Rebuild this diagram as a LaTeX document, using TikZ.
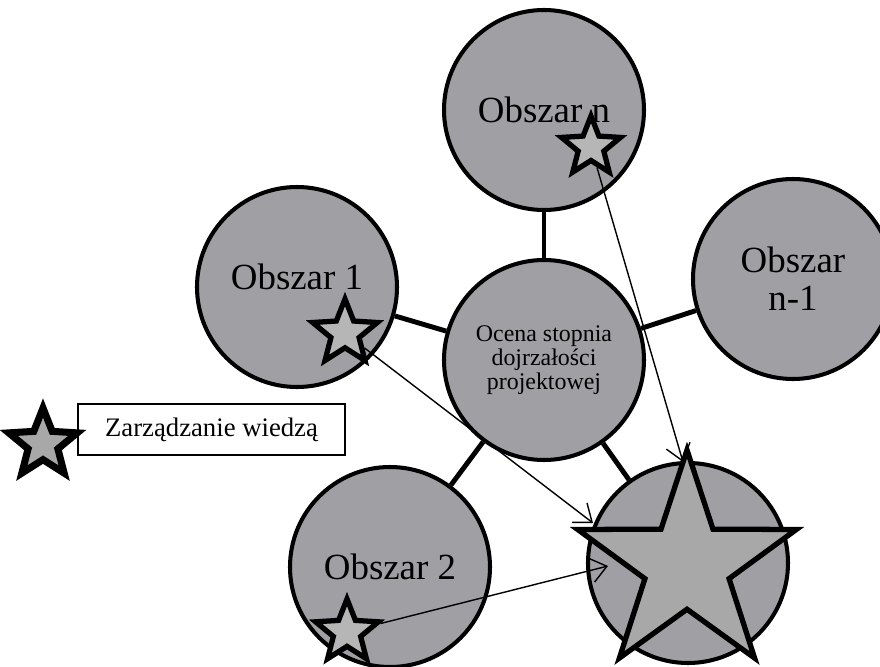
\documentclass[tikz,border=0pt]{standalone}
\usepackage{fontspec}
\setmainfont{Liberation Serif}
\usetikzlibrary{shapes.geometric, arrows.meta}
\definecolor{areagray}{RGB}{160,159,164}
\definecolor{stargray}{RGB}{168,168,168}
\definecolor{lightstar}{RGB}{182,182,182}

\begin{document}
\begin{tikzpicture}[> = {Straight Barb[length=4.5pt, width=7pt]}, every node/.style = {inner sep=0pt},
    area/.style = {circle, draw, line width=1.15pt, fill=areagray, minimum size=2cm, align=center, font=\rmfamily\fontsize{10.5}{10.8}\selectfont},
    link/.style = {line width=1.4pt},
    kstar/.style = {star, star points=5, star point ratio=2.3, draw, line width=1.5pt, fill=lightstar},
    flow/.style = {->, line width=0.4pt}]
    \useasboundingbox (0, 0) rectangle (8.8, 6.66);
    \node[area, font=\rmfamily\fontsize{6.8}{6.9}\selectfont] (ocena) at (5.44, 3.06) {Ocena stopnia\\dojrzałości\\projektowej};
    \node[area] (obszarN) at (5.44, 5.56) {Obszar n};
    \node[area] (obszarN1) at (7.93, 3.87) {Obszar\\n-1};
    \node[area, align=left, text depth=0.2cm] (obszar1) at (2.97, 3.79) {Obszar 1};
    \node[area] (obszar2) at (3.90, 0.99) {Obszar 2};
    \node[area] (wiedza) at (6.88, 1.03) {};
    \draw[link] (ocena) -- (obszarN);
    \draw[link] (ocena) -- (obszarN1);
    \draw[link] (ocena) -- (obszar1);
    \draw[link] (ocena) -- (obszar2);
    \draw[link] (ocena) -- (wiedza);
    % gwiazdki
    \node[kstar, minimum size=2.3cm, star point ratio=2.6, fill=stargray] (starW) at (6.87, 1.01) {};
    \node[kstar, minimum size=0.62cm] (starN) at (5.91, 5.19) {};
    \node[kstar, minimum size=0.68cm] (star1) at (3.45, 3.33) {};
    \node[kstar, minimum size=0.66cm] (star2) at (3.47, 0.34) {};
    \coordinate (cN) at (6.83, 2.04);
    \coordinate (c1) at (5.93, 1.43);
    \coordinate (c2) at (6.08, 1.00);
    \draw[flow] (starN) -- (cN);
    \draw[flow] (star1) -- (c1);
    \draw[flow] (star2) -- (c2);
    % legenda
    \node[kstar, minimum size=0.72cm, line width=2pt, fill=stargray] (starL) at (0.43, 2.22) {};
    \node[draw, line width=0.45pt, minimum width=2.67cm, minimum height=0.51cm, font=\rmfamily\fontsize{7.6}{8}\selectfont] (legenda) at (2.115, 2.365) {Zarządzanie wiedzą};
\end{tikzpicture}
\end{document}
